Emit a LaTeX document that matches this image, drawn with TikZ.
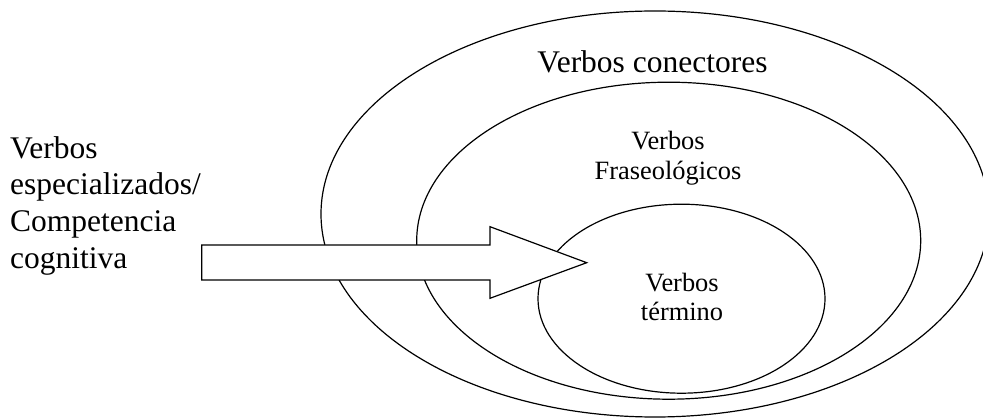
\documentclass[tikz,border=0pt]{standalone}
\usepackage{fontspec}
\setmainfont{Liberation Serif}
\usetikzlibrary{shapes.geometric}
\begin{document}
\begin{tikzpicture}[x=1pt,y=-1pt,
  ring/.style={draw=black,fill=white,line width=1.2pt,ellipse,inner sep=0pt},
  big/.style={font=\fontsize{31.5}{36.7}\selectfont,inner sep=0pt},
  mid/.style={font=\fontsize{26.4}{29.3}\selectfont,inner sep=0pt},
  pointer/.style={draw=black,fill=white,line width=1.2pt,line join=miter}]
\useasboundingbox (0,0) rectangle (983,419);
\begin{scope}
\clip (0,0) rectangle (983,419);
\node[ring,minimum width=668pt,minimum height=406pt] (outer) at (655,214) {};
\node[ring,minimum width=504pt,minimum height=317pt] (middle) at (668.7,240.7) {};
\node[ring,minimum width=287pt,minimum height=189pt] (inner) at (681.5,298.7) {};
\end{scope}
% arrow
\coordinate (a1) at (201.7,245);
\coordinate (a2) at (490,245);
\coordinate (a3) at (490,226.7);
\coordinate (tip) at (586.7,262.7);
\coordinate (a5) at (490,298.3);
\coordinate (a6) at (490,280);
\coordinate (a7) at (201.7,280);
\draw[pointer] (a1) -- (a2) -- (a3) -- (tip) -- (a5) -- (a6) -- (a7) -- cycle;
% texts
\node[big,anchor=base] (t1) at (652.5,73) {Verbos conectores};
\node[mid,anchor=base] (t2a) at (668,150) {Verbos};
\node[mid,anchor=base] (t2b) at (668,179.3) {Fraseológicos};
\node[mid,anchor=base] (t3a) at (682,291.7) {Verbos};
\node[mid,anchor=base] (t3b) at (682,321) {término};
\node[big,anchor=base west] (l1) at (10,158.3) {Verbos};
\node[big,anchor=base west] (l2) at (10,195) {especializados/};
\node[big,anchor=base west] (l3) at (10,231.7) {Competencia};
\node[big,anchor=base west] (l4) at (10,268.3) {cognitiva};
\end{tikzpicture}
\end{document}
